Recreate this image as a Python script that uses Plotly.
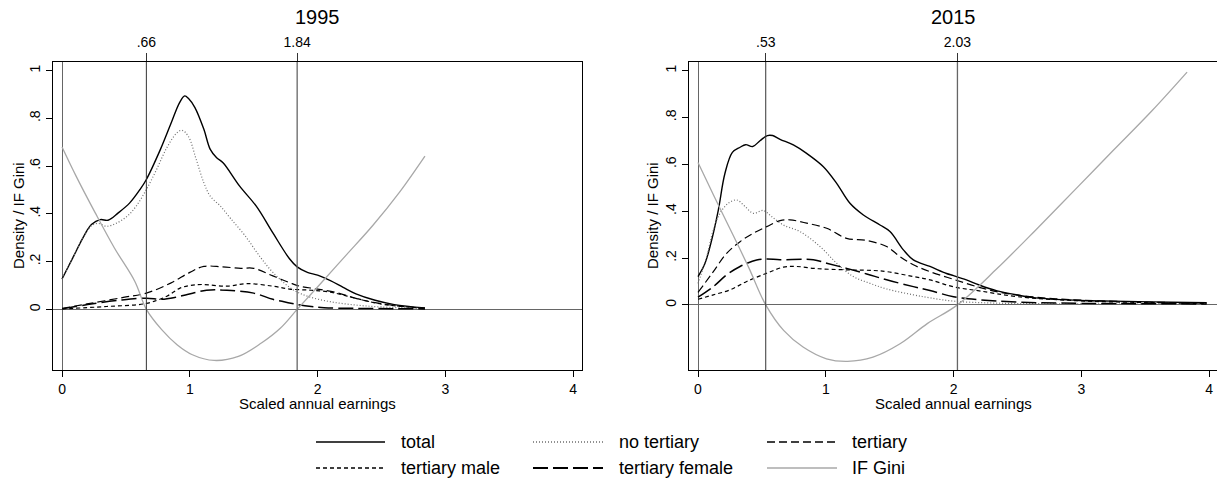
import plotly.graph_objects as go

# ---------------- data: 1995 ----------------
x_total_1995 = [0, 0.09, 0.17, 0.23, 0.30, 0.36, 0.44, 0.53, 0.61, 0.66, 0.77, 0.85, 0.92, 0.96, 0.99,
                1.04, 1.11, 1.16, 1.21, 1.26, 1.39, 1.52, 1.65, 1.78, 1.84, 1.92, 2.0, 2.1, 2.2, 2.3,
                2.45, 2.6, 2.84]
total_1995 = [0.127, 0.222, 0.306, 0.355, 0.376, 0.373, 0.404, 0.446, 0.502, 0.544, 0.670, 0.775, 0.866,
              0.894, 0.883, 0.845, 0.754, 0.670, 0.635, 0.614, 0.516, 0.432, 0.320, 0.212, 0.178, 0.155,
              0.143, 0.120, 0.092, 0.065, 0.038, 0.020, 0.006]

x_notert_1995 = [0, 0.09, 0.17, 0.23, 0.28, 0.35, 0.43, 0.51, 0.58, 0.66, 0.74, 0.82, 0.90, 0.94, 0.99,
                 1.05, 1.11, 1.16, 1.24, 1.32, 1.43, 1.55, 1.65, 1.80, 1.92, 2.1, 2.3, 2.5, 2.84]
notert_1995 = [0.127, 0.222, 0.306, 0.350, 0.360, 0.348, 0.362, 0.390, 0.432, 0.502, 0.586, 0.677, 0.740,
               0.750, 0.723, 0.628, 0.530, 0.474, 0.432, 0.380, 0.310, 0.220, 0.155, 0.085, 0.055, 0.032,
               0.018, 0.010, 0.004]

x_tert_1995 = [0, 0.22, 0.48, 0.66, 0.85, 1.0, 1.11, 1.25, 1.4, 1.5, 1.65, 1.78, 1.86, 2.0, 2.15, 2.3,
               2.45, 2.65, 2.84]
tert_1995 = [0.004, 0.025, 0.050, 0.068, 0.110, 0.155, 0.180, 0.178, 0.172, 0.172, 0.140, 0.112, 0.097,
             0.085, 0.070, 0.046, 0.028, 0.013, 0.005]

x_male_1995 = [0, 0.35, 0.66, 0.82, 0.92, 1.0, 1.1, 1.29, 1.45, 1.65, 1.78, 1.95, 2.1, 2.3, 2.5, 2.7, 2.84]
male_1995 = [0.002, 0.012, 0.025, 0.055, 0.088, 0.100, 0.104, 0.097, 0.108, 0.097, 0.085, 0.080, 0.072,
             0.046, 0.022, 0.010, 0.004]

x_female_1995 = [0, 0.2, 0.45, 0.66, 0.78, 0.9, 0.98, 1.13, 1.29, 1.5, 1.65, 1.78, 1.9, 2.05, 2.3, 2.6, 2.84]
female_1995 = [0.002, 0.020, 0.038, 0.047, 0.042, 0.052, 0.062, 0.080, 0.080, 0.068, 0.042, 0.027, 0.015,
               0.007, 0.004, 0.003, 0.002]

x_gini_1995 = [0, 0.11, 0.26, 0.41, 0.57, 0.66, 0.78, 0.9, 1.02, 1.19, 1.38, 1.56, 1.71, 1.84, 2.01,
               2.22, 2.43, 2.64, 2.84]
gini_1995 = [0.680, 0.558, 0.404, 0.257, 0.117, 0.0, -0.085, -0.148, -0.190, -0.214, -0.197, -0.141,
             -0.078, 0.0, 0.100, 0.225, 0.350, 0.490, 0.642]

roots_1995 = [0.66, 1.84]

# ---------------- data: 2015 ----------------
x_total_2015 = [0, 0.055, 0.107, 0.159, 0.211, 0.269, 0.329, 0.373, 0.428, 0.485, 0.543, 0.584, 0.642,
                0.746, 0.85, 0.981, 1.085, 1.189, 1.294, 1.424, 1.502, 1.607, 1.685, 1.815, 1.945, 2.0,
                2.1, 2.2, 2.34, 2.5, 2.64, 2.95, 3.25, 3.55, 3.98]
total_2015 = [0.121, 0.178, 0.277, 0.405, 0.562, 0.651, 0.673, 0.684, 0.676, 0.701, 0.723, 0.723, 0.707,
              0.683, 0.647, 0.590, 0.519, 0.434, 0.384, 0.341, 0.313, 0.235, 0.192, 0.164, 0.134, 0.125,
              0.107, 0.085, 0.060, 0.042, 0.030, 0.020, 0.016, 0.013, 0.009]

x_notert_2015 = [0, 0.068, 0.12, 0.172, 0.237, 0.303, 0.368, 0.433, 0.511, 0.576, 0.668, 0.798, 0.955,
                 1.085, 1.215, 1.346, 1.476, 1.685, 1.815, 2.0, 2.3, 2.7, 3.2, 3.98]
notert_2015 = [0.092, 0.206, 0.320, 0.391, 0.434, 0.448, 0.420, 0.391, 0.403, 0.377, 0.341, 0.313, 0.249,
               0.178, 0.121, 0.092, 0.068, 0.043, 0.030, 0.016, 0.008, 0.005, 0.004, 0.003]

x_tert_2015 = [0, 0.12, 0.224, 0.329, 0.433, 0.537, 0.642, 0.72, 0.85, 1.007, 1.163, 1.32, 1.476, 1.581,
               1.685, 1.815, 2.0, 2.2, 2.4, 2.7, 3.0, 3.5, 3.98]
tert_2015 = [0.053, 0.142, 0.220, 0.270, 0.306, 0.334, 0.360, 0.363, 0.349, 0.327, 0.284, 0.275, 0.249,
             0.206, 0.171, 0.142, 0.109, 0.075, 0.050, 0.030, 0.020, 0.012, 0.008]

x_male_2015 = [0, 0.12, 0.25, 0.381, 0.537, 0.668, 0.772, 0.902, 1.033, 1.215, 1.372, 1.476, 1.685,
               1.815, 2.0, 2.2, 2.5, 3.0, 3.5, 3.98]
male_2015 = [0.024, 0.043, 0.064, 0.100, 0.135, 0.161, 0.164, 0.156, 0.152, 0.149, 0.147, 0.142, 0.121,
             0.107, 0.077, 0.060, 0.035, 0.017, 0.010, 0.006]

x_female_2015 = [0, 0.12, 0.224, 0.329, 0.459, 0.537, 0.642, 0.902, 1.007, 1.163, 1.32, 1.476, 1.685,
                 1.815, 2.0, 2.2, 2.5, 3.0, 3.98]
female_2015 = [0.033, 0.078, 0.128, 0.164, 0.192, 0.196, 0.193, 0.193, 0.178, 0.156, 0.132, 0.107, 0.078,
               0.061, 0.035, 0.022, 0.012, 0.007, 0.004]

x_gini_2015 = [0, 0.124, 0.276, 0.398, 0.53, 0.67, 0.822, 1.005, 1.17, 1.369, 1.581, 1.794, 2.03, 2.34,
               2.643, 2.947, 3.25, 3.554, 3.827]
gini_2015 = [0.608, 0.466, 0.296, 0.158, 0.0, -0.109, -0.180, -0.230, -0.241, -0.223, -0.166, -0.080,
             0.0, 0.155, 0.320, 0.490, 0.660, 0.830, 0.994]

roots_2015 = [0.53, 2.03]

# ---------------- labels ----------------
panel_titles = ["1995", "2015"]
series_names = ["total", "no tertiary", "tertiary", "tertiary male", "tertiary female", "IF Gini"]
x_ticks = [0, 1, 2, 3, 4]
y_ticks = [0, 0.2, 0.4, 0.6, 0.8, 1]
y_ticktext = ["0", ".2", ".4", ".6", ".8", "1"]
x_title = "Scaled annual earnings"
y_title = "Density / IF Gini"

# ---------------- styling ----------------
FONT = "Liberation Sans, Arial, sans-serif"
W, H = 1217, 482
styles = [
    dict(color="#000000", width=1.4, dash="solid"),      # total
    dict(color="#6e6e6e", width=1.2, dash="1px,2px"),    # no tertiary
    dict(color="#000000", width=1.2, dash="8px,4px"),    # tertiary
    dict(color="#000000", width=1.2, dash="4px,3px"),    # tertiary male
    dict(color="#000000", width=1.5, dash="15px,5px"),   # tertiary female
    dict(color="#a8a8a8", width=1.3, dash="solid"),      # IF Gini
]

panels = [
    dict(series=[(x_total_1995, total_1995), (x_notert_1995, notert_1995), (x_tert_1995, tert_1995),
                 (x_male_1995, male_1995), (x_female_1995, female_1995), (x_gini_1995, gini_1995)],
         roots=roots_1995, frame=(52.7, 582.0), xrange=[-0.073, 4.069], yrange=[-0.254, 1.036],
         ytitle_x=19),
    dict(series=[(x_total_2015, total_2015), (x_notert_2015, notert_2015), (x_tert_2015, tert_2015),
                 (x_male_2015, male_2015), (x_female_2015, female_2015), (x_gini_2015, gini_2015)],
         roots=roots_2015, frame=(688.7, 1217.0), xrange=[-0.0728, 4.061], yrange=[-0.278, 1.037],
         ytitle_x=653),
]

FRAME_TOP, FRAME_BOT = 62.0, 370.0
ydom = [1 - FRAME_BOT / H, 1 - FRAME_TOP / H]

fig = go.Figure()
annotations = []

for i, p in enumerate(panels):
    xa = "x" if i == 0 else "x2"
    ya = "y" if i == 0 else "y2"
    xtop = "x3" if i == 0 else "x4"

    for (xs, ys), st, name in zip(p["series"], styles, series_names):
        fig.add_trace(go.Scatter(x=xs, y=ys, mode="lines", name=name, showlegend=False,
                                 line=dict(color=st["color"], width=st["width"], dash=st["dash"],
                                           shape="spline", smoothing=1.0),
                                 xaxis=xa, yaxis=ya, hoverinfo="skip"))

    # vertical lines where the Gini influence function crosses zero
    for j, r in enumerate(p["roots"]):
        fig.add_trace(go.Scatter(x=[r, r], y=p["yrange"], mode="lines", showlegend=False,
                                 line=dict(color="#333333" if j == 0 else "#666666",
                                           width=1.0 if j == 0 else 1.3),
                                 xaxis=xtop, yaxis=ya, hoverinfo="skip"))

    fl, fr = p["frame"]
    xdom = [fl / W, fr / W]
    common_x = dict(range=p["xrange"], showgrid=False, zeroline=True, zerolinecolor="#666666",
                    zerolinewidth=1.3, fixedrange=True)
    fig.layout[("xaxis" if i == 0 else "xaxis2")] = dict(
        domain=xdom, anchor=ya, tickvals=x_ticks, ticks="outside", ticklen=6, tickwidth=1,
        tickcolor="#000", showline=True, mirror=True, linecolor="#000", linewidth=1.4,
        tickfont=dict(family=FONT, size=14, color="#000"), **common_x)
    fig.layout[("xaxis3" if i == 0 else "xaxis4")] = dict(
        overlaying=xa, side="top", anchor=ya, range=p["xrange"], tickvals=p["roots"],
        ticktext=[(f"{r:.2f}").lstrip("0") for r in p["roots"]], ticks="outside", ticklen=8,
        tickwidth=1, tickcolor="#333", showline=False, showgrid=False, zeroline=False,
        tickfont=dict(family=FONT, size=14, color="#000"), fixedrange=True)
    fig.layout[("yaxis" if i == 0 else "yaxis2")] = dict(
        domain=ydom, anchor=xa, range=p["yrange"], tickvals=y_ticks, ticktext=y_ticktext,
        tickangle=-90, ticks="outside", ticklen=6, tickwidth=1, tickcolor="#000",
        showline=True, mirror=(i == 0), linecolor="#000", linewidth=1.4, showgrid=False,
        zeroline=True, zerolinecolor="#666666", zerolinewidth=1.3,
        tickfont=dict(family=FONT, size=14, color="#000"), fixedrange=True)

    cx = (fl + (582.0 if i == 0 else 1218.0)) / 2 / W
    annotations.append(dict(text=panel_titles[i], x=cx, y=1 - 17 / H, xref="paper", yref="paper",
                            xanchor="center", yanchor="middle", showarrow=False,
                            font=dict(family=FONT, size=20, color="#000")))
    annotations.append(dict(text=x_title, x=cx, y=1 - 403 / H, xref="paper", yref="paper",
                            xanchor="center", yanchor="middle", showarrow=False,
                            font=dict(family=FONT, size=15, color="#000")))
    annotations.append(dict(text=y_title, x=p["ytitle_x"] / W, y=1 - 216 / H, xref="paper",
                            yref="paper", xanchor="center", yanchor="middle", textangle=-90,
                            showarrow=False, font=dict(family=FONT, size=15, color="#000")))

# legend: three columns, two rows
legend_cols = [(316, 385, 399), (533, 603, 617), (767, 837, 850)]
legend_rows = [442, 468]
shapes = []
for k, (name, st) in enumerate(zip(series_names, styles)):
    row, col = divmod(k, 3)
    x0, x1, xt = legend_cols[col]
    yy = 1 - legend_rows[row] / H
    shapes.append(dict(type="line", xref="paper", yref="paper", x0=x0 / W, x1=x1 / W, y0=yy, y1=yy,
                       line=dict(color=st["color"], width=st["width"] + 0.3, dash=st["dash"])))
    annotations.append(dict(text=name, x=xt / W, y=yy, xref="paper", yref="paper", xanchor="left",
                            yanchor="middle", showarrow=False,
                            font=dict(family=FONT, size=18, color="#000")))

fig.update_layout(width=W, height=H, margin=dict(l=0, r=0, t=0, b=0), autosize=False,
                  paper_bgcolor="white", plot_bgcolor="white", showlegend=False,
                  annotations=annotations, shapes=shapes, font=dict(family=FONT))

fig.write_html("out.html")
